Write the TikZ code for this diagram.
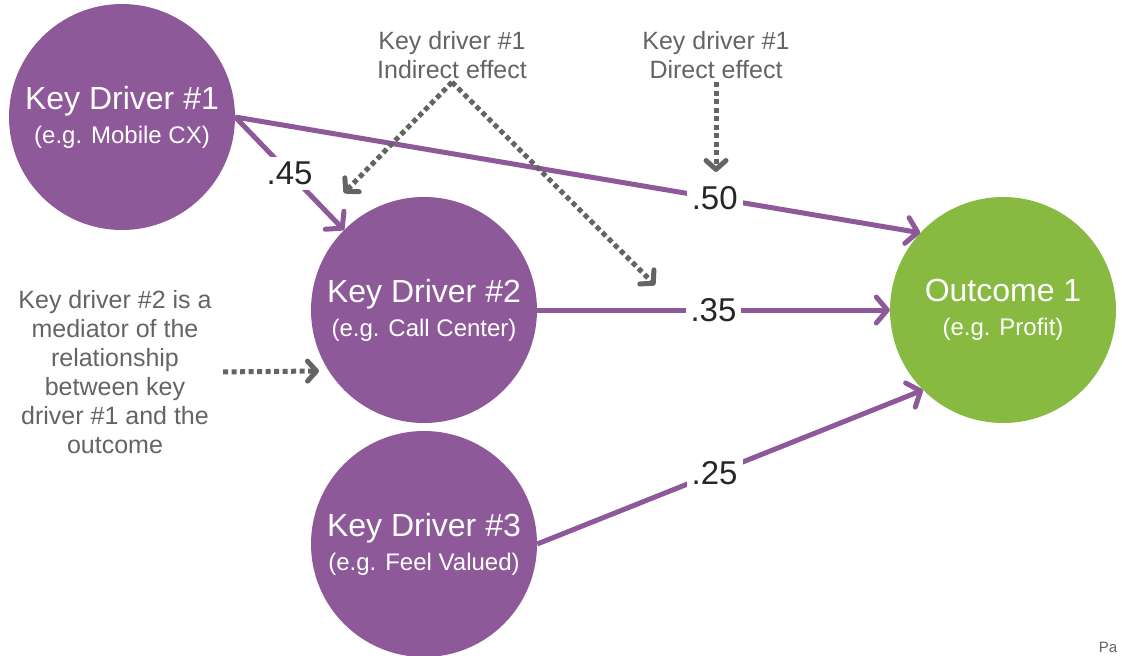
\documentclass[tikz,border=0pt]{standalone}
\usepackage{fontspec}
\setmainfont{Liberation Sans}
\usetikzlibrary{arrows.meta,positioning}

\definecolor{kdpurple}{RGB}{142,89,153}
\definecolor{outgreen}{RGB}{136,186,66}
\definecolor{notegray}{RGB}{100,100,100}

\begin{document}
\begin{tikzpicture}[x=1pt, y=-1pt,
    driver/.style={circle, fill=kdpurple, minimum size=226pt, inner sep=0pt, align=center, text=white, font=\fontsize{32}{34}\selectfont},
    outcome/.style={driver, fill=outgreen},
    note/.style={align=center, text=notegray, font=\fontsize{25}{29}\selectfont},
    weight/.style={fill=white, inner sep=5pt, text=black!85, font=\fontsize{33}{36}\selectfont},
    link/.style={draw=kdpurple, line width=5pt, -{Straight Barb[round, length=11pt, width=26pt]}},
    hint/.style={draw=notegray, line width=5pt, dash pattern=on 5pt off 3.5pt, -{Straight Barb[round, length=9pt, width=20pt]}}]

    \useasboundingbox (0,0) rectangle (1122,656);

    \node[driver] (kd1) at (122,117) {Key Driver \#1\\{\fontsize{24}{26}\selectfont (e.g. Mobile CX)}};
    \node[driver] (kd2) at (424,310) {Key Driver \#2\\{\fontsize{24}{26}\selectfont (e.g. Call Center)}};
    \node[driver] (kd3) at (424,544) {Key Driver \#3\\{\fontsize{24}{26}\selectfont (e.g. Feel Valued)}};
    \node[outcome] (outc) at (1003,310) {Outcome 1\\{\fontsize{24}{26}\selectfont (e.g. Profit)}};

    \node[note] (ind) at (452,55) {Key driver \#1\\Indirect effect};
    \node[note] (dir) at (716,55) {Key driver \#1\\Direct effect};
    \node[note] (med) at (115,372) {Key driver \#2 is a\\mediator of the\\relationship\\between key\\driver \#1 and the\\outcome};
    \node[text=notegray, font=\fontsize{15}{18}\selectfont] (pa) at (1108,647) {Pa};

    \coordinate (indtipA) at (344,193);
    \coordinate (indtipB) at (655,285);
    \coordinate (dirtip) at (716,172);
    \coordinate (medtip) at (319,371);

    \draw[link] (kd1.east) -- (kd2.135) node[weight, midway] {.45};
    \draw[link] (kd1.east) -- (outc.137) node[weight, pos=0.7] {.50};
    \draw[link] (kd2.east) -- (outc.west) node[weight, midway] {.35};
    \draw[link] (kd3.east) -- (outc.225) node[weight, pos=0.46] {.25};

    \draw[hint] (ind.south) -- (indtipA);
    \draw[hint] (ind.south) -- (indtipB);
    \draw[hint] (dir.south) -- (dirtip);
    \draw[hint, shorten <=8pt] (med.east) -- (medtip);

\end{tikzpicture}
\end{document}
